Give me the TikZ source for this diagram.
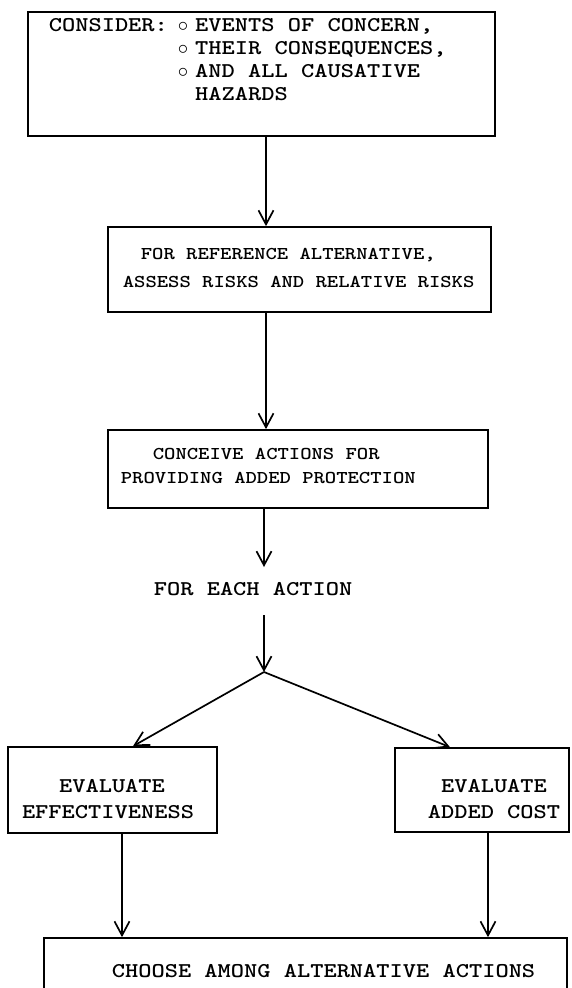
\documentclass[tikz,border=0pt]{standalone}
\usepackage{fontspec}
\usetikzlibrary{arrows.meta}
\newfontfamily\twfam{lmmonolt10-bold.otf}[FakeStretch=1.2]
\newcommand\elite{\twfam\fontsize{18}{21}\selectfont}
\newcommand\pica{\twfam\fontsize{21}{24}\selectfont}
\begin{document}
\begin{tikzpicture}[x=1pt,y=-1pt,line width=1.7pt,
  box/.style={draw,rectangle,inner sep=0pt},
  lbl/.style={font=\pica,inner sep=0pt,anchor=base west},
  lble/.style={font=\elite,inner sep=0pt,anchor=base west},
  lblc/.style={font=\pica,inner sep=0pt,anchor=base},
  arr/.style={-{Straight Barb[length=14pt,width=15pt,line width=1.7pt]}}]
\useasboundingbox (0,0) rectangle (571,988);
\clip (0,0) rectangle (571,988);
% boxes
\node[box,minimum width=467,minimum height=124] (b1) at (261.5,74) {};
\node[box,minimum width=383,minimum height=85] (b2) at (299.5,269.5) {};
\node[box,minimum width=380,minimum height=78] (b3) at (298,469) {};
\node[box,minimum width=209,minimum height=86] (lb) at (112.5,790) {};
\node[box,minimum width=174,minimum height=84] (rb) at (482,790) {};
\node[box,minimum width=523,minimum height=80] (bb) at (305.5,978) {};
% texts
\node[lbl] (t1a) at (48,31) {CONSIDER:};
\node[lbl] (t1b) at (177,31) {$\circ$\hspace{7pt}EVENTS OF CONCERN,};
\node[lbl] (t1c) at (177,54) {$\circ$\hspace{7pt}THEIR CONSEQUENCES,};
\node[lbl] (t1d) at (177,77) {$\circ$\hspace{7pt}AND ALL CAUSATIVE};
\node[lbl] (t1e) at (177,100) {\phantom{$\circ$}\hspace{7pt}HAZARDS};
\node[lble] (t2a) at (140,259) {FOR REFERENCE ALTERNATIVE,};
\node[lble] (t2b) at (122,287) {ASSESS RISKS AND RELATIVE RISKS};
\node[lble] (t3a) at (152,459) {CONCEIVE ACTIONS FOR};
\node[lble] (t3b) at (120,483) {PROVIDING ADDED PROTECTION};
\node[lbl] (fea) at (153,595) {FOR EACH ACTION};
\node[lblc] (l1) at (112,792) {EVALUATE};
\node[lblc] (l2) at (108,818) {EFFECTIVENESS};
\node[lblc] (r1) at (494,792) {EVALUATE};
\node[lblc] (r2) at (494,818) {ADDED COST};
\node[lbl] (bt) at (111,977) {CHOOSE AMONG ALTERNATIVE ACTIONS};
% connector helpers
\coordinate (ax) at (266,0);
\coordinate (t3) at (264,567);
\coordinate (s4) at (264,615);
\coordinate (j) at (264,672);
\coordinate (lx) at (133,0);
\coordinate (rx) at (450,0);
\coordinate (lv) at (122,0);
\coordinate (rv) at (488,0);
% connectors
\draw[arr] (b1.south -| ax) -- (b2.north -| ax);
\draw[arr] (b2.south -| ax) -- (b3.north -| ax);
\draw[arr] (b3.south -| t3) -- (t3);
\draw[arr] (s4) -- (j);
\draw[arr] (j) -- (lb.north -| lx);
\draw[arr] (j) -- (rb.north -| rx);
\draw[arr] (lb.south -| lv) -- (bb.north -| lv);
\draw[arr] (rb.south -| rv) -- (bb.north -| rv);
\end{tikzpicture}
\end{document}
